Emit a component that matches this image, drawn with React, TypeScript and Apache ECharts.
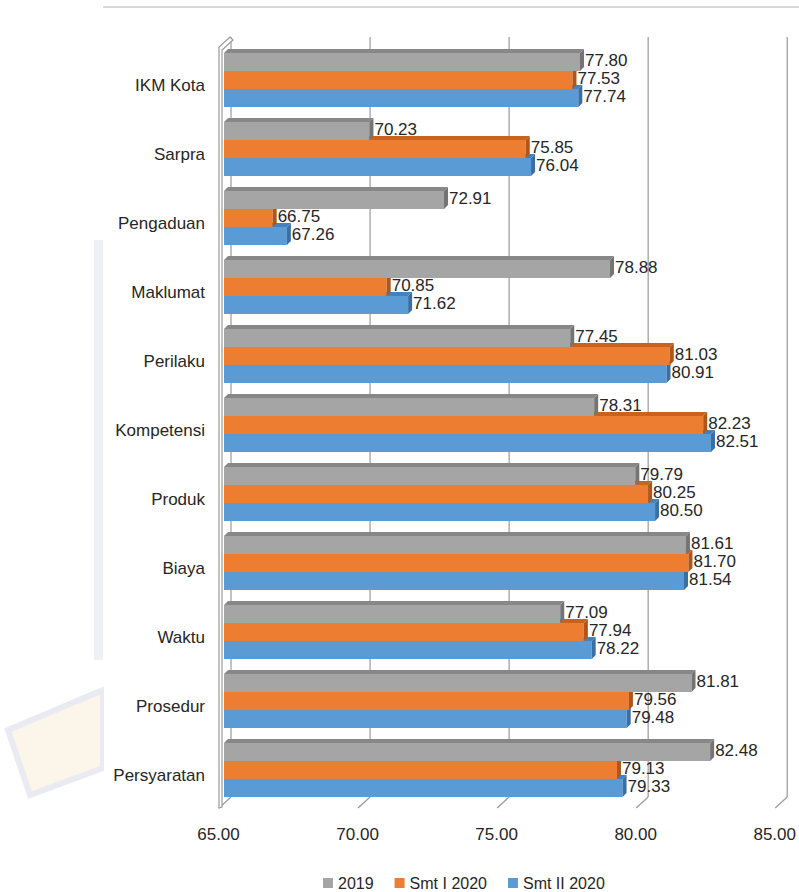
import React, { useEffect, useRef } from "react";
import * as echarts from "echarts";

const categories = ["IKM Kota", "Sarpra", "Pengaduan", "Maklumat", "Perilaku", "Kompetensi", "Produk", "Biaya", "Waktu", "Prosedur", "Persyaratan"];
const values2019 = [77.80, 70.23, 72.91, 78.88, 77.45, 78.31, 79.79, 81.61, 77.09, 81.81, 82.48];
const valuesSmt1 = [77.53, 75.85, 66.75, 70.85, 81.03, 82.23, 80.25, 81.70, 77.94, 79.56, 79.13];
const valuesSmt2 = [77.74, 76.04, 67.26, 71.62, 80.91, 82.51, 80.50, 81.54, 78.22, 79.48, 79.33];
const seriesNames = ["2019", "Smt I 2020", "Smt II 2020"];
const xTicks = [65, 70, 75, 80, 85];
const X_MIN = 65;
const X_MAX = 85;

const FONT = "'Liberation Sans', Arial, sans-serif";
const TEXT = "#262626";
const BAR_H = 18;
const DEPTH = 4;

const palettes = [
  { front: "#a5a5a5", top: "#878787", side: "#747474" },
  { front: "#ed7d31", top: "#c8621d", side: "#b0561a" },
  { front: "#5b9bd5", top: "#4582bd", side: "#386fa6" },
];

function makeBarRenderer(idx: number) {
  const pal = palettes[idx];
  return (params: any, api: any) => {
    const v = api.value(0);
    const c = api.value(1);
    const end = api.coord([v, c]);
    const start = api.coord([X_MIN, c]);
    const x0 = start[0];
    const x1 = end[0];
    const y0 = end[1] + (idx - 1.5) * BAR_H;
    const h = BAR_H;
    const d = DEPTH;
    return {
      type: "group",
      children: [
        {
          type: "polygon",
          shape: { points: [[x0, y0], [x1, y0], [x1 + d, y0 - d], [x0 + d, y0 - d]] },
          style: { fill: pal.top },
        },
        {
          type: "rect",
          shape: { x: x0, y: y0, width: x1 - x0, height: h },
          style: { fill: pal.front },
        },
        {
          type: "polygon",
          shape: { points: [[x1, y0], [x1 + d, y0 - d], [x1 + d, y0 + h - d], [x1, y0 + h]] },
          style: { fill: pal.side },
        },
        {
          type: "text",
          x: x1 + d + 1,
          y: y0 + h / 2 - d / 2,
          style: {
            text: Number(v).toFixed(2),
            fill: TEXT,
            fontSize: 17,
            fontFamily: FONT,
            align: "left",
            verticalAlign: "middle",
          },
        },
      ],
    };
  };
}

function frameRenderer(params: any, api: any) {
  const v = api.value(0);
  const cs = params.coordSys;
  const x = api.coord([v, 0])[0];
  const top = cs.y - 8.5;
  const backBottom = cs.y + cs.height - 7.5;
  const frontBottom = cs.y + cs.height + 3.5;
  const stroke = "#9a9a9a";
  const children: any[] = [
    {
      type: "line",
      shape: { x1: x + 7, y1: top, x2: x + 7, y2: backBottom },
      style: { stroke, lineWidth: 1.2 },
    },
    {
      type: "line",
      shape: { x1: x + 7, y1: backBottom, x2: x - 5, y2: frontBottom },
      style: { stroke, lineWidth: 1.2 },
    },
  ];
  if (v === X_MIN) {
    children.push({
      type: "polygon",
      shape: {
        points: [
          [x - 5, frontBottom],
          [x - 5, cs.y + 1.5],
          [x + 6, top],
          [x + 9, top + 3],
          [x - 2, cs.y + 4.5],
          [x - 2, frontBottom - 1],
        ],
      },
      style: { fill: "#ffffff", stroke, lineWidth: 1.2 },
    });
  }
  return { type: "group", children };
}

export default function App() {
  const ref = useRef<HTMLDivElement>(null);
  useEffect(() => {
    if (!ref.current) return;
    const chart = echarts.init(ref.current, null, { renderer: "svg" });
    const seriesData = [values2019, valuesSmt1, valuesSmt2];
    const option: any = {
      animation: false,
      backgroundColor: "#ffffff",
      textStyle: { fontFamily: FONT },
      graphic: [
        { type: "rect", z: -10, shape: { x: 94, y: 240, width: 9, height: 420 }, style: { fill: "#efeff6" } },
        {
          type: "polygon",
          z: -10,
          shape: { points: [[8, 730], [103, 690], [103, 768], [30, 795]] },
          style: { fill: "#fbf6e9", stroke: "#eaeaf3", lineWidth: 6 },
        },
        { type: "rect", z: -5, shape: { x: 104, y: 0, width: 20, height: 892 }, style: { fill: "#ffffff" } },
        { type: "rect", z: 10, shape: { x: 103, y: 6, width: 696, height: 2 }, style: { fill: "#d9d9d9" } },
      ],
      legend: {
        data: seriesNames,
        left: 318,
        top: 870,
        icon: "rect",
        itemWidth: 10,
        itemHeight: 10,
        itemGap: 21,
        textStyle: { fontSize: 16, color: TEXT, fontFamily: FONT },
      },
      grid: { left: 224, right: 15, top: 45.5, height: 759, containLabel: false },
      xAxis: {
        type: "value",
        min: X_MIN,
        max: X_MAX,
        interval: 5,
        axisLine: { show: false },
        axisTick: { show: false },
        splitLine: { show: false },
        axisLabel: {
          margin: 21,
          fontSize: 17,
          color: TEXT,
          fontFamily: FONT,
          padding: [0, 11, 0, 0],
          formatter: (val: number) => val.toFixed(2),
        },
      },
      yAxis: {
        type: "category",
        data: categories,
        inverse: true,
        axisLine: { show: false },
        axisTick: { show: false },
        splitLine: { show: false },
        axisLabel: {
          margin: 19,
          fontSize: 17,
          color: TEXT,
          fontFamily: FONT,
          verticalAlign: "top",
          lineHeight: 10,
        },
      },
      series: [
        ...seriesNames.map((name, i) => ({
          name,
          type: "custom",
          z: 5 - i,
          clip: false,
          itemStyle: { color: palettes[i].front },
          encode: { x: 0, y: 1 },
          renderItem: makeBarRenderer(i),
          data: seriesData[i].map((v, c) => [v, c]),
        })),
        {
          name: "frame",
          type: "custom",
          z: 1,
          clip: false,
          silent: true,
          encode: { x: 0, y: 1 },
          renderItem: frameRenderer,
          data: xTicks.map((t) => [t, 0]),
        },
      ],
    };
    chart.setOption(option);
    return () => chart.dispose();
  }, []);
  return <div ref={ref} style={{ position: "absolute", left: 0, top: 0, width: 799, height: 892 }} />;
}
